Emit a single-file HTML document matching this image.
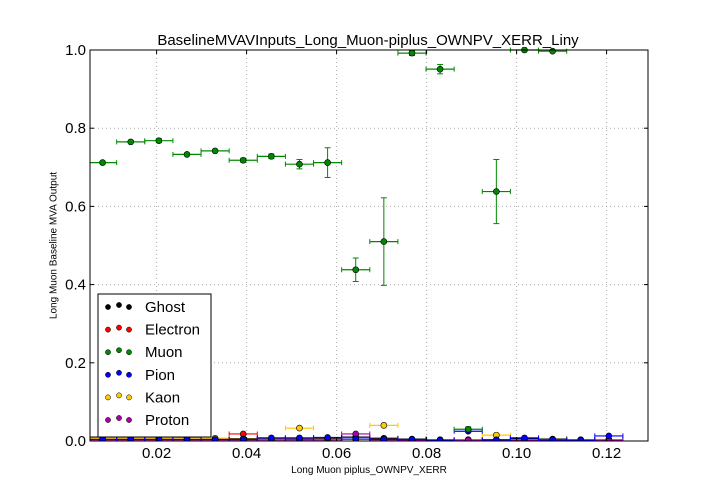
<!DOCTYPE html>
<html><head><meta charset="utf-8"><style>
body{margin:0;background:#fff;}
svg{display:block;font-family:"Liberation Sans",sans-serif;}
</style></head><body>
<svg id="c" width="720" height="504"></svg>
<script>
const binCenters=[0.008,0.01425,0.0205,0.02675,0.033,0.03925,0.0455,0.05175,0.058,0.06425,0.0705,0.07675,0.083,0.08925,0.0955,0.10175,0.108,0.11425,0.1205];
const muon=[0.712,0.765,0.768,0.733,0.742,0.718,0.728,0.708,0.712,0.438,0.510,0.992,0.951,0.030,0.638,1.0,0.997,null,null];
const muonErr=[0.004,0.004,0.005,0.004,0.004,0.005,0.006,0.012,0.038,0.03,0.112,0.006,0.012,0.006,0.082,0.003,0.004,0,0];
const ghost=[0.010,0.010,0.010,0.008,0.006,0.006,0.005,0.007,0.007,0.010,0.007,0.005,0.003,0.003,0.003,0.005,0.005,0.003,0.003];
const electron=[0.006,0.006,0.006,0.012,0.006,0.018,0.004,0.004,0.004,0.004,0.004,0.003,0.003,0.003,0.003,0.003,0.003,0.003,0.003];
const pion=[0.004,0.004,0.004,0.004,0.004,0.004,0.008,0.008,0.009,0.005,0.004,0.004,0.002,0.025,0.003,0.008,0.003,0.002,0.013];
const kaon=[0.007,0.007,0.007,0.007,0.007,0.005,0.004,0.033,0.004,0.004,0.040,0.003,0.003,0.003,0.015,0.003,0.003,0.003,0.003];
const proton=[0.003,0.003,0.003,0.003,0.003,0.003,0.003,0.003,0.003,0.018,0.003,0.002,0.002,0.002,0.002,0.002,0.002,0.002,0.002];
const xTicks=[0.02,0.04,0.06,0.08,0.10,0.12];
const yTicks=[0.0,0.2,0.4,0.6,0.8,1.0];
const legendNames=["Ghost","Electron","Muon","Pion","Kaon","Proton"];
const legendColors=["#000","#f00","#080","#00f","#fc0","#a0a"];

const L=90,R=648,T=50,B=441,xmin=0.0052,xmax=0.1292,hw=0.003125;
const X=v=>L+(v-xmin)/(xmax-xmin)*(R-L);
const Y=v=>B-v*(B-T);
const svg=document.getElementById('c');
function el(tag,attrs,parent){const e=document.createElementNS('http://www.w3.org/2000/svg',tag);for(const k in attrs)e.setAttribute(k,attrs[k]);(parent||svg).appendChild(e);return e;}
xTicks.forEach(t=>{const g=el('line',{x1:X(t),x2:X(t),y1:T,y2:B,stroke:'#aaa','stroke-dasharray':'1,3'});

});
yTicks.forEach(t=>{const g=el('line',{x1:L,x2:R,y1:Y(t),y2:Y(t),stroke:'#aaa','stroke-dasharray':'1,3'});

});
const clip=el('clipPath',{id:'cp'});el('rect',{x:L,y:T-3,width:R-L,height:B-T+3},clip);
const plot=el('g',{'clip-path':'url(#cp)'});
function series(vals,errs,color,name){
  const g=el('g',{},plot);
  
  
  vals.forEach((v,i)=>{
    if(v===null)return;
    const cx=binCenters[i],x=X(cx),y=Y(v);
    el('line',{x1:X(cx-hw),x2:X(cx+hw),y1:y,y2:y,stroke:color,'stroke-width':1.2},g);
    el('line',{x1:X(cx-hw),x2:X(cx-hw),y1:y-2.5,y2:y+2.5,stroke:color},g);
    el('line',{x1:X(cx+hw),x2:X(cx+hw),y1:y-2.5,y2:y+2.5,stroke:color},g);
    const e=errs?errs[i]:0.003;
    if(e>0.004){el('line',{x1:x,x2:x,y1:Y(v+e),y2:Y(v-e),stroke:color},g);
      el('line',{x1:x-3,x2:x+3,y1:Y(v+e),y2:Y(v+e),stroke:color},g);
      el('line',{x1:x-3,x2:x+3,y1:Y(v-e),y2:Y(v-e),stroke:color},g);}
    const m=el('circle',{cx:x,cy:y,r:3,fill:color,stroke:'#000','stroke-width':0.6},g);
    
    
  });
}
series(ghost,null,'#000','ghost');
series(electron,null,'#f00','electron');
series(kaon,null,'#fc0','kaon');
series(proton,null,'#a0a','proton');
series(pion,null,'#00f','pion');
series(muon,muonErr,'#080','muon');
el('rect',{x:L,y:T,width:R-L,height:B-T,fill:'none',stroke:'#000'});
xTicks.forEach(t=>{el('line',{x1:X(t),x2:X(t),y1:B,y2:B-4,stroke:'#000'});el('line',{x1:X(t),x2:X(t),y1:T,y2:T+4,stroke:'#000'});
const tx=el('text',{x:X(t),y:B+17,'text-anchor':'middle','font-size':15});tx.textContent=t.toFixed(2);

});
yTicks.forEach(t=>{el('line',{x1:L,x2:L+4,y1:Y(t),y2:Y(t),stroke:'#000'});el('line',{x1:R,x2:R-4,y1:Y(t),y2:Y(t),stroke:'#000'});
const tx=el('text',{x:L-4,y:Y(t)+5,'text-anchor':'end','font-size':15});tx.textContent=t.toFixed(1);

});
const lg=el('g',{});


el('rect',{x:98,y:294,width:113,height:143,fill:'#fff',stroke:'#000'},lg);
legendNames.forEach((n,i)=>{const y=307+i*22.6;
  const e=el('g',{},lg);
  
  
  [108,119,129].forEach((x,k)=>el('circle',{cx:x,cy:k==1?y-2:y,r:2.6,fill:legendColors[i],stroke:'#000','stroke-width':0.5},e));
  const t=el('text',{x:145,y:y+5,'font-size':15},e);t.textContent=n;});
</script>
<div style="position:absolute;left:0;top:0;width:720px;text-align:center;pointer-events:none">
<div style="position:absolute;left:0;width:736px;top:32px;font:15px 'Liberation Sans',sans-serif;">BaselineMVAVInputs_Long_Muon-piplus_OWNPV_XERR_Liny</div>
<div style="position:absolute;left:0;width:738px;top:465px;font:10px 'Liberation Sans',sans-serif;">Long Muon piplus_OWNPV_XERR</div>
<div style="position:absolute;left:-46px;top:240px;width:200px;transform:rotate(-90deg);font:10px 'Liberation Sans',sans-serif;">Long Muon Baseline MVA Output</div>
</div>
</body></html>
